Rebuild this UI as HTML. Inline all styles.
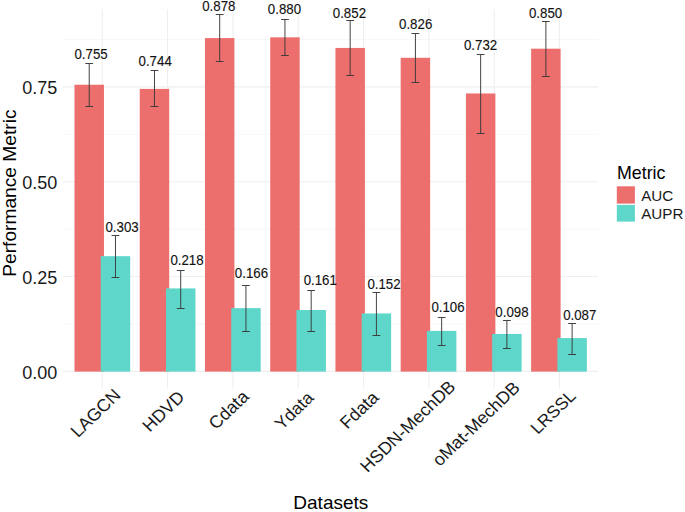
<!DOCTYPE html><html><head><meta charset="utf-8"><style>html,body{margin:0;padding:0;background:#fff;}svg{display:block;}text{font-family:"Liberation Sans",sans-serif;}</style></head><body>
<svg width="685" height="512" viewBox="0 0 685 512">
<rect width="685" height="512" fill="#fff"/>
<line x1="62.8" x2="598.2" y1="323.99" y2="323.99" stroke="#F5F5F5" stroke-width="0.8"/>
<line x1="62.8" x2="598.2" y1="229.16" y2="229.16" stroke="#F5F5F5" stroke-width="0.8"/>
<line x1="62.8" x2="598.2" y1="134.34" y2="134.34" stroke="#F5F5F5" stroke-width="0.8"/>
<line x1="62.8" x2="598.2" y1="39.51" y2="39.51" stroke="#F5F5F5" stroke-width="0.8"/>
<line x1="62.8" x2="598.2" y1="371.40" y2="371.40" stroke="#EFEFEF" stroke-width="1.1"/>
<line x1="62.8" x2="598.2" y1="276.57" y2="276.57" stroke="#EFEFEF" stroke-width="1.1"/>
<line x1="62.8" x2="598.2" y1="181.75" y2="181.75" stroke="#EFEFEF" stroke-width="1.1"/>
<line x1="62.8" x2="598.2" y1="86.92" y2="86.92" stroke="#EFEFEF" stroke-width="1.1"/>
<line x1="102.30" x2="102.30" y1="9.3" y2="388.8" stroke="#EFEFEF" stroke-width="1.1"/>
<line x1="167.61" x2="167.61" y1="9.3" y2="388.8" stroke="#EFEFEF" stroke-width="1.1"/>
<line x1="232.92" x2="232.92" y1="9.3" y2="388.8" stroke="#EFEFEF" stroke-width="1.1"/>
<line x1="298.23" x2="298.23" y1="9.3" y2="388.8" stroke="#EFEFEF" stroke-width="1.1"/>
<line x1="363.54" x2="363.54" y1="9.3" y2="388.8" stroke="#EFEFEF" stroke-width="1.1"/>
<line x1="428.85" x2="428.85" y1="9.3" y2="388.8" stroke="#EFEFEF" stroke-width="1.1"/>
<line x1="494.16" x2="494.16" y1="9.3" y2="388.8" stroke="#EFEFEF" stroke-width="1.1"/>
<line x1="559.47" x2="559.47" y1="9.3" y2="388.8" stroke="#EFEFEF" stroke-width="1.1"/>
<rect x="74.50" y="84.73" width="29.46" height="286.87" fill="#EC6E6D"/>
<rect x="100.74" y="256.17" width="29.46" height="115.43" fill="#5ED6CA"/>
<rect x="139.74" y="88.90" width="29.46" height="282.70" fill="#EC6E6D"/>
<rect x="165.98" y="288.41" width="29.46" height="83.19" fill="#5ED6CA"/>
<rect x="204.97" y="38.07" width="29.46" height="333.53" fill="#EC6E6D"/>
<rect x="231.21" y="308.14" width="29.46" height="63.46" fill="#5ED6CA"/>
<rect x="270.21" y="37.32" width="29.46" height="334.28" fill="#EC6E6D"/>
<rect x="296.45" y="310.03" width="29.46" height="61.57" fill="#5ED6CA"/>
<rect x="335.44" y="47.94" width="29.46" height="323.66" fill="#EC6E6D"/>
<rect x="361.68" y="313.45" width="29.46" height="58.15" fill="#5ED6CA"/>
<rect x="400.68" y="57.80" width="29.46" height="313.80" fill="#EC6E6D"/>
<rect x="426.92" y="330.89" width="29.46" height="40.71" fill="#5ED6CA"/>
<rect x="465.92" y="93.45" width="29.46" height="278.15" fill="#EC6E6D"/>
<rect x="492.16" y="333.93" width="29.46" height="37.67" fill="#5ED6CA"/>
<rect x="531.15" y="48.69" width="29.46" height="322.91" fill="#EC6E6D"/>
<rect x="557.39" y="338.10" width="29.46" height="33.50" fill="#5ED6CA"/>
<path d="M85.33 63.50H93.13M89.23 63.50V106.50M85.33 106.50H93.13" stroke="#3a3a3a" stroke-width="0.95" fill="none"/>
<path d="M111.57 235.50H119.37M115.47 235.50V277.50M111.57 277.50H119.37" stroke="#3a3a3a" stroke-width="0.95" fill="none"/>
<path d="M150.57 70.50H158.37M154.47 70.50V106.50M150.57 106.50H158.37" stroke="#3a3a3a" stroke-width="0.95" fill="none"/>
<path d="M176.81 270.50H184.61M180.71 270.50V308.50M176.81 308.50H184.61" stroke="#3a3a3a" stroke-width="0.95" fill="none"/>
<path d="M215.80 14.50H223.60M219.70 14.50V61.50M215.80 61.50H223.60" stroke="#3a3a3a" stroke-width="0.95" fill="none"/>
<path d="M242.04 285.50H249.84M245.94 285.50V331.50M242.04 331.50H249.84" stroke="#3a3a3a" stroke-width="0.95" fill="none"/>
<path d="M281.04 19.50H288.84M284.94 19.50V55.50M281.04 55.50H288.84" stroke="#3a3a3a" stroke-width="0.95" fill="none"/>
<path d="M307.28 290.50H315.08M311.18 290.50V331.50M307.28 331.50H315.08" stroke="#3a3a3a" stroke-width="0.95" fill="none"/>
<path d="M346.27 20.50H354.07M350.17 20.50V75.50M346.27 75.50H354.07" stroke="#3a3a3a" stroke-width="0.95" fill="none"/>
<path d="M372.51 292.50H380.31M376.41 292.50V335.50M372.51 335.50H380.31" stroke="#3a3a3a" stroke-width="0.95" fill="none"/>
<path d="M411.51 33.50H419.31M415.41 33.50V82.50M411.51 82.50H419.31" stroke="#3a3a3a" stroke-width="0.95" fill="none"/>
<path d="M437.75 317.50H445.55M441.65 317.50V345.50M437.75 345.50H445.55" stroke="#3a3a3a" stroke-width="0.95" fill="none"/>
<path d="M476.75 54.50H484.55M480.65 54.50V133.50M476.75 133.50H484.55" stroke="#3a3a3a" stroke-width="0.95" fill="none"/>
<path d="M502.99 320.50H510.79M506.89 320.50V348.50M502.99 348.50H510.79" stroke="#3a3a3a" stroke-width="0.95" fill="none"/>
<path d="M541.98 21.50H549.78M545.88 21.50V76.50M541.98 76.50H549.78" stroke="#3a3a3a" stroke-width="0.95" fill="none"/>
<path d="M568.22 323.50H576.02M572.12 323.50V354.50M568.22 354.50H576.02" stroke="#3a3a3a" stroke-width="0.95" fill="none"/>
<text id="a0" transform="translate(91.10,59.20) scale(0.9500,1.0000)" font-size="14" text-anchor="middle" fill="#111" stroke="#111" stroke-width="0.12">0.755</text>
<text id="p0" transform="translate(122.10,232.20) scale(0.9500,1.0000)" font-size="14" text-anchor="middle" fill="#111" stroke="#111" stroke-width="0.12">0.303</text>
<text id="a1" transform="translate(155.15,65.80) scale(0.9500,1.0000)" font-size="14" text-anchor="middle" fill="#111" stroke="#111" stroke-width="0.12">0.744</text>
<text id="p1" transform="translate(187.00,264.60) scale(0.9500,1.0000)" font-size="14" text-anchor="middle" fill="#111" stroke="#111" stroke-width="0.12">0.218</text>
<text id="a2" transform="translate(218.80,10.70) scale(0.9500,1.0000)" font-size="14" text-anchor="middle" fill="#111" stroke="#111" stroke-width="0.12">0.878</text>
<text id="p2" transform="translate(251.45,278.00) scale(0.9500,1.0000)" font-size="14" text-anchor="middle" fill="#111" stroke="#111" stroke-width="0.12">0.166</text>
<text id="a3" transform="translate(284.45,14.10) scale(0.9500,1.0000)" font-size="14" text-anchor="middle" fill="#111" stroke="#111" stroke-width="0.12">0.880</text>
<text id="p3" transform="translate(320.25,284.80) scale(0.9500,1.0000)" font-size="14" text-anchor="middle" fill="#111" stroke="#111" stroke-width="0.12">0.161</text>
<text id="a4" transform="translate(349.40,17.60) scale(0.9500,1.0000)" font-size="14" text-anchor="middle" fill="#111" stroke="#111" stroke-width="0.12">0.852</text>
<text id="p4" transform="translate(384.00,288.70) scale(0.9500,1.0000)" font-size="14" text-anchor="middle" fill="#111" stroke="#111" stroke-width="0.12">0.152</text>
<text id="a5" transform="translate(415.65,28.90) scale(0.9500,1.0000)" font-size="14" text-anchor="middle" fill="#111" stroke="#111" stroke-width="0.12">0.826</text>
<text id="p5" transform="translate(448.00,312.20) scale(0.9500,1.0000)" font-size="14" text-anchor="middle" fill="#111" stroke="#111" stroke-width="0.12">0.106</text>
<text id="a6" transform="translate(480.55,49.80) scale(0.9500,1.0000)" font-size="14" text-anchor="middle" fill="#111" stroke="#111" stroke-width="0.12">0.732</text>
<text id="p6" transform="translate(511.95,316.70) scale(0.9500,1.0000)" font-size="14" text-anchor="middle" fill="#111" stroke="#111" stroke-width="0.12">0.098</text>
<text id="a7" transform="translate(545.55,17.80) scale(0.9500,1.0000)" font-size="14" text-anchor="middle" fill="#111" stroke="#111" stroke-width="0.12">0.850</text>
<text id="p7" transform="translate(579.75,319.80) scale(0.9500,1.0000)" font-size="14" text-anchor="middle" fill="#111" stroke="#111" stroke-width="0.12">0.087</text>
<text id="y0" transform="translate(57.30,378.90)" font-size="18.0" text-anchor="end" fill="#1a1a1a">0.00</text>
<text id="y25" transform="translate(57.30,284.10)" font-size="18.0" text-anchor="end" fill="#1a1a1a">0.25</text>
<text id="y50" transform="translate(57.30,189.30)" font-size="18.0" text-anchor="end" fill="#1a1a1a">0.50</text>
<text id="y75" transform="translate(57.30,94.00)" font-size="18.0" text-anchor="end" fill="#1a1a1a">0.75</text>
<text id="x0" transform="translate(121.70,396.25) scale(1.0000,0.9600) rotate(-45)" font-size="18.0" text-anchor="end" fill="#1a1a1a">LAGCN</text>
<text id="x1" transform="translate(185.74,398.20) scale(1.0000,0.9600) rotate(-45)" font-size="18.0" text-anchor="end" fill="#1a1a1a">HDVD</text>
<text id="x2" transform="translate(249.98,397.70) scale(1.0000,0.9600) rotate(-45)" font-size="18.0" text-anchor="end" fill="#1a1a1a">Cdata</text>
<text id="x3" transform="translate(314.82,398.90) scale(1.0000,0.9600) rotate(-45)" font-size="17.8" text-anchor="end" fill="#1a1a1a">Ydata</text>
<text id="x4" transform="translate(379.86,398.60) scale(1.0000,0.9600) rotate(-45)" font-size="18.0" text-anchor="end" fill="#1a1a1a">Fdata</text>
<text id="x5" transform="translate(456.55,387.75) scale(1.0000,0.9600) rotate(-45)" font-size="18.0" text-anchor="end" fill="#1a1a1a">HSDN-MechDB</text>
<text id="x6" transform="translate(520.94,388.90) scale(1.0000,0.9600) rotate(-45)" font-size="18.0" text-anchor="end" fill="#1a1a1a">oMat-MechDB</text>
<text id="x7" transform="translate(576.88,397.10) scale(1.0000,0.9700) rotate(-45)" font-size="17.5" text-anchor="end" fill="#1a1a1a">LRSSL</text>
<text id="Datasets" transform="translate(330.80,509.20)" font-size="19" text-anchor="middle" fill="#000">Datasets</text>
<text id="ytitle" transform="translate(15.90,193.10) rotate(-90)" font-size="19.2" text-anchor="middle" fill="#000">Performance Metric</text>
<text id="Metric" transform="translate(617.00,178.50)" font-size="17.8" text-anchor="start" fill="#000">Metric</text>
<rect x="616.8" y="186.3" width="18.1" height="17.3" fill="#EC6E6D"/>
<rect x="616.8" y="204.9" width="18.1" height="16.7" fill="#5ED6CA"/>
<text id="AUC" transform="translate(641.20,201.20)" font-size="15.2" text-anchor="start" fill="#1a1a1a">AUC</text>
<text id="AUPR" transform="translate(641.20,219.30)" font-size="15.2" text-anchor="start" fill="#1a1a1a">AUPR</text>
</svg></body></html>
